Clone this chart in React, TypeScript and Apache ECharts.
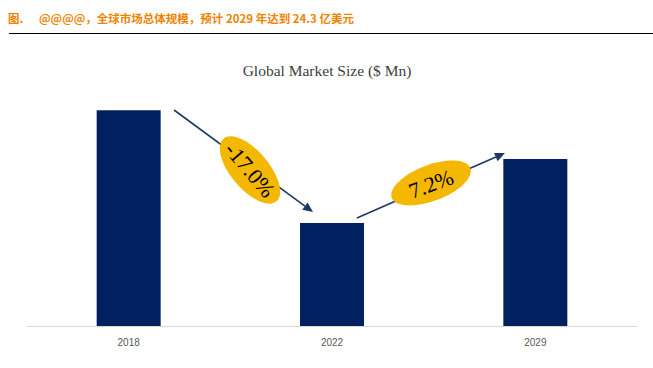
import React, { useEffect, useRef } from "react";
import * as echarts from "echarts";

const categories = ["2018", "2022", "2029"];
const marketSize = [3140, 1500, 2430];
const cagrLabels = ["-17.0%", "7.2%"];
const headline = "@@@@，全球市场总体规模，预计 2029 年达到 24.3 亿美元";
const chartTitle = "Global Market Size ($ Mn)";

function arrow(x1: number, y1: number, x2: number, y2: number, color: string) {
  const ang = Math.atan2(y2 - y1, x2 - x1);
  const len = 10;
  const w = 4.5;
  const bx = x2 - len * Math.cos(ang);
  const by = y2 - len * Math.sin(ang);
  const px = -Math.sin(ang) * w;
  const py = Math.cos(ang) * w;
  return [
    { type: "line", shape: { x1, y1, x2: bx, y2: by }, style: { stroke: color, lineWidth: 1.6 }, z: 10 },
    {
      type: "polygon",
      shape: { points: [[x2, y2], [bx + px, by + py], [bx - px, by - py]] },
      style: { fill: color },
      z: 10,
    },
  ];
}

export default function App() {
  const ref = useRef<HTMLDivElement>(null);
  useEffect(() => {
    document.body.style.margin = "0";
    const chart = echarts.init(ref.current!, null, { renderer: "svg" });
    const navy = "#1F3864";
    chart.setOption({
      animation: false,
      backgroundColor: "#fff",
      grid: { left: 27, right: 16, top: 85.5, bottom: 42 },
      xAxis: {
        type: "category",
        data: categories,
        axisLine: { lineStyle: { color: "#D9D9D9", width: 1 } },
        axisTick: { show: false },
        axisLabel: { color: "#595959", fontSize: 10, fontFamily: "Liberation Sans, Arial", margin: 11 },
      },
      yAxis: { type: "value", min: 0, max: 3500, show: false, splitLine: { show: false } },
      series: [
        {
          type: "bar",
          data: marketSize,
          barWidth: 64,
          itemStyle: { color: "#002060" },
        },
      ],
      graphic: [
        {
          type: "text",
          left: 8,
          top: 12,
          style: { text: "图.", fill: "#F08300", font: "bold 11.5px 'Noto Sans CJK SC'" },
        },
        {
          type: "text",
          left: 39,
          top: 12,
          style: { text: headline, fill: "#F08300", font: "bold 11.5px 'Noto Sans CJK SC'" },
        },
        { type: "line", shape: { x1: 9, y1: 33.5, x2: 653, y2: 33.5 }, style: { stroke: "#000", lineWidth: 1 } },
        {
          type: "text",
          x: 327,
          y: 70,
          style: {
            text: chartTitle,
            fill: "#404040",
            font: "15.5px 'Liberation Serif', serif",
            align: "center",
            verticalAlign: "middle",
          },
        },
        ...arrow(174, 110, 313, 212, navy),
        ...arrow(357, 218, 505, 153, navy),
        {
          type: "ellipse",
          x: 250,
          y: 170,
          rotation: -0.87,
          shape: { cx: 0, cy: 0, rx: 41, ry: 19 },
          style: { fill: "#F5B800" },
          z: 11,
        },
        {
          type: "text",
          x: 250,
          y: 170,
          rotation: -0.87,
          style: {
            text: cagrLabels[0],
            fill: "#000",
            font: "22px 'Liberation Serif', serif",
            align: "center",
            verticalAlign: "middle",
          },
          z: 12,
        },
        {
          type: "ellipse",
          x: 431,
          y: 183,
          rotation: 0.36,
          shape: { cx: 0, cy: 0, rx: 42, ry: 18 },
          style: { fill: "#F5B800" },
          z: 11,
        },
        {
          type: "text",
          x: 431,
          y: 184,
          rotation: 0.36,
          style: {
            text: cagrLabels[1],
            fill: "#000",
            font: "22px 'Liberation Serif', serif",
            align: "center",
            verticalAlign: "middle",
          },
          z: 12,
        },
      ],
    });
    return () => chart.dispose();
  }, []);
  return <div ref={ref} style={{ width: 653, height: 368 }} />;
}
